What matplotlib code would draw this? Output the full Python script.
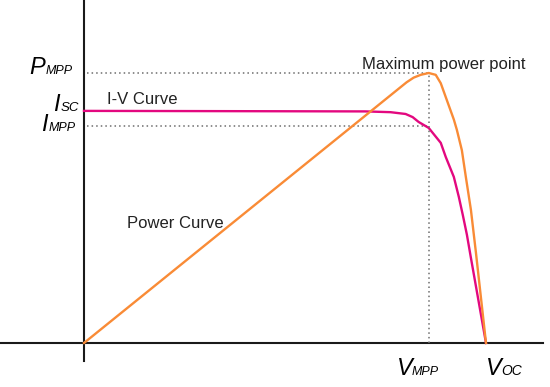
import matplotlib
matplotlib.use('Agg')
import matplotlib.pyplot as plt

# I-V curve (volts, amps)
iv_voltage = [0.0, 28.0, 30.5, 32.0, 32.7, 33.3, 34.3, 35.5, 36.0, 36.8, 37.3, 37.7, 38.1, 38.5, 40.0]
iv_current = [9.00, 8.98, 8.95, 8.88, 8.76, 8.57, 8.34, 7.76, 7.21, 6.44, 5.66, 4.95, 4.20, 3.30, 0.0]

# power curve (volts, watts)
pw_voltage = [0.0, 32.1, 32.8, 33.5, 34.3, 35.0, 35.5, 36.0, 36.8, 37.1, 37.6, 38.0, 38.5, 39.0, 40.0]
pw_power = [0, 280, 285, 288, 290, 288, 279, 264, 240, 229, 207, 178, 143, 97, 0]

# maximum power point
v_mpp = 34.3
i_mpp = 8.42
p_mpp = 290

W, H = 550, 387
fig = plt.figure(figsize=(5.5, 3.87), dpi=100)
ax = fig.add_axes([0, 0, 1, 1])
ax.set_xlim(-8.36, 46.37)
ax.set_ylim(-1.707, 13.30)
ax.axis('off')
ax2 = ax.twinx()
ax2.set_ylim(-47.3, 368.4)
ax2.axis('off')

orange = '#f98b36'
magenta = '#e3087f'
dots = '#6e6e6e'

# axis lines
ax.axhline(0, xmin=0, xmax=543 / W, color='#1a1a1a', lw=1.5, zorder=1)
ax.axvline(0, ymin=(H - 361) / H, ymax=1, color='#1a1a1a', lw=1.5, zorder=1)

# dotted guides
ax.plot([0.3, v_mpp - 0.2], [i_mpp, i_mpp], ls=(0, (1, 2)), color=dots, lw=1.1)
ax2.plot([0.3, v_mpp], [p_mpp, p_mpp], ls=(0, (1, 2)), color=dots, lw=1.1)
ax2.plot([v_mpp, v_mpp], [0, p_mpp], ls=(0, (1, 2)), color=dots, lw=1.1)

# curves
ax.plot(iv_voltage, iv_current, color=magenta, lw=1.7, zorder=3)
ax2.plot(pw_voltage, pw_power, color=orange, lw=1.7, zorder=3)

def fx(px):
    return px / W

def fy(py):
    return 1 - py / H

txt = '#222222'
fig.text(fx(362), fy(69), 'Maximum power point', fontsize=12, family='Liberation Sans', color=txt)
fig.text(fx(107), fy(104), 'I-V Curve', fontsize=12, family='Liberation Sans', color=txt)
fig.text(fx(127), fy(228), 'Power Curve', fontsize=12, family='Liberation Sans', color=txt)

def sym(x_main, x_sub, y, main, sub, subsize=9):
    fig.text(fx(x_main), fy(y), main, fontsize=17, style='italic',
             family='Liberation Sans', color='black', va='baseline')
    fig.text(fx(x_sub), fy(y), sub, fontsize=subsize, style='italic',
             family='Liberation Sans', color='black', va='baseline')

sym(29, 46, 74, 'P', 'MPP')
sym(53, 61, 111, 'I', 'SC', 9.5)
sym(41, 49, 131, 'I', 'MPP')
sym(397, 412, 375, 'V', 'MPP')
sym(486, 501, 375, 'V', 'OC', 10)

fig.savefig('out.png', dpi=100)
